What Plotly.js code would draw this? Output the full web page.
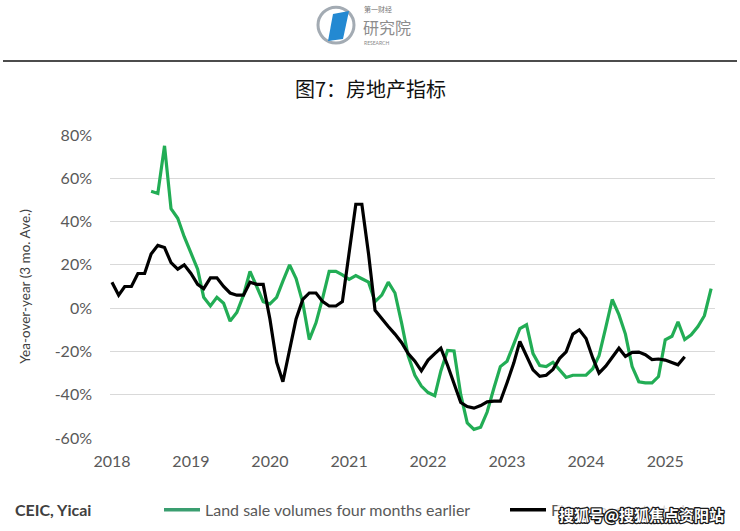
<!DOCTYPE html>
<html>
<head>
<meta charset="utf-8">
<script src="https://cdn.plot.ly/plotly-3.0.1.min.js"></script>
<style>
  html, body { margin: 0; padding: 0; background: #fff; }
  #chart { width: 740px; height: 531px; }
  text.annotation-text[data-unformatted^="搜狐号"] {
    stroke: #1a1a1a; stroke-width: 2.6px; paint-order: stroke fill; stroke-linejoin: round;
  }
</style>
</head>
<body>
<div id="chart"></div>
<script>
// ---------------- data ----------------
const landStart = '2018-07';   // first month of green series
const floorStart = '2018-01';  // first month of black series

const landSale = [
  54, 53, 75, 46, 41.5, 33,
  25.5, 18, 5, 1, 5, 2.3, -6, -2, 6, 17, 10, 3,
  2, 5, 12.5, 20, 13.7, 2.4, -14.5, -6.8, 4.7, 17, 17, 15.4,
  13.3, 15, 13.6, 12, 3, 6, 12, 7, -7, -22, -31, -36,
  -39, -40.5, -29, -19.5, -19.8, -40, -53, -56, -55, -48, -37, -27,
  -24.5, -16.5, -9.5, -7.7, -21, -26.5, -27, -25, -28.3, -32, -31, -31,
  -31, -28, -22, -9, 4, -3, -12, -27, -34, -34.5, -34.5, -31.6,
  -14.6, -13, -6.3, -14.5, -12.3, -8.5, -3.5, 9
];

const floorSpace = [
  12, 6, 10, 10, 16, 16, 25, 29, 28, 21, 18, 20,
  16, 11, 9, 14, 14, 10, 7, 6, 6, 12, 11, 11,
  -5, -25, -34, -19.5, -5, 4, 7, 7, 3, 1, 1, 3,
  25, 48, 48, 25, -1, -5, -8.5, -12, -16, -21, -24.5, -29,
  -24, -21, -18.5, -26.4, -35, -43.6, -45.5, -46.2, -45, -43.3, -43, -43,
  -34.5, -25.4, -15.4, -22, -28.5, -31.5, -31, -28.3, -23.2, -20.2, -12, -10,
  -14, -23, -30, -26.8, -22.5, -18.5, -22.3, -20.4, -20.3, -21.5, -23.8, -23.5,
  -24, -25, -26.2, -22.5
];

const seriesNames = ['Land sale volumes four months earlier', 'Floor space started'];
const seriesColors = ['#22ad55', '#000000'];
const yTickVals = [-60, -40, -20, 0, 20, 40, 60, 80];
const yTickText = ['-60%', '-40%', '-20%', '0%', '20%', '40%', '60%', '80%'];
const xTickYears = ['2018', '2019', '2020', '2021', '2022', '2023', '2024', '2025'];

// ---------------- helpers ----------------
function months(start, n) {
  const [y0, m0] = start.split('-').map(Number);
  const out = [];
  for (let i = 0; i < n; i++) {
    const t = (m0 - 1) + i;
    const y = y0 + Math.floor(t / 12);
    const m = (t % 12) + 1;
    out.push(y + '-' + String(m).padStart(2, '0') + '-01');
  }
  return out;
}

const W = 740, H = 531;
const PL = 110, PR = 715, PT = 135, PB = 438.3;
const fx = x => (x - PL) / (PR - PL);
const fy = y => (PB - y) / (PB - PT);

const FONT = 'Lato, "Open Sans", "DejaVu Sans", sans-serif';
const CJK = '"Noto Sans CJK SC", "Noto Sans", sans-serif';

const traces = [
  {
    x: months(landStart, landSale.length), y: landSale,
    type: 'scatter', mode: 'lines', name: seriesNames[0],
    line: { color: seriesColors[0], width: 3.2 }
  },
  {
    x: months(floorStart, floorSpace.length), y: floorSpace,
    type: 'scatter', mode: 'lines', name: seriesNames[1],
    line: { color: seriesColors[1], width: 3.2 }
  }
];

// manual legend (keeps the plot area fixed)
const legendY = 510;
const legendItems = [
  { x0: 164, x1: 200, tx: 203 },
  { x0: 510, x1: 546, tx: 549 }
];

const shapes = [
  // horizontal rule under header
  { type: 'line', xref: 'paper', yref: 'paper', x0: fx(3), x1: fx(737), y0: fy(61), y1: fy(61),
    line: { color: '#111111', width: 1.5 } },
  // logo ring
  { type: 'circle', xref: 'paper', yref: 'paper', x0: fx(318), x1: fx(354), y0: fy(43), y1: fy(7),
    line: { color: '#a3abb3', width: 3 } },
  // logo blue book
  { type: 'path', xref: 'paper', yref: 'paper',
    path: 'M ' + fx(333) + ',' + fy(14) + ' L ' + fx(349) + ',' + fy(11) + ' L ' + fx(343) + ',' + fy(39) +
          ' L ' + fx(328) + ',' + fy(41) + ' Z',
    fillcolor: '#2389d2', line: { color: '#2389d2', width: 0 } }
];
legendItems.forEach((it, i) => {
  shapes.push({ type: 'line', xref: 'paper', yref: 'paper', x0: fx(it.x0), x1: fx(it.x1),
    y0: fy(legendY), y1: fy(legendY),
    line: { color: i === 0 ? '#3a9e70' : seriesColors[1], width: 3.5 } });
});

const annotations = [
  { text: '第一财经', xref: 'paper', yref: 'paper', x: fx(362), y: fy(9), xanchor: 'left', yanchor: 'middle',
    showarrow: false, font: { family: CJK, size: 7, color: '#777777' } },
  { text: '研究院', xref: 'paper', yref: 'paper', x: fx(361), y: fy(26.5), xanchor: 'left', yanchor: 'middle',
    showarrow: false, font: { family: CJK, size: 16, color: '#8c8c8c' } },
  { text: 'RESEARCH', xref: 'paper', yref: 'paper', x: fx(362), y: fy(43), xanchor: 'left', yanchor: 'middle',
    showarrow: false, font: { family: FONT, size: 5, color: '#888888' } },
  { text: '图7：房地产指标', xref: 'paper', yref: 'paper', x: fx(370), y: fy(88), xanchor: 'center', yanchor: 'middle',
    showarrow: false, font: { family: CJK, size: 20, color: '#111111' } },
  { text: '<b>CEIC, Yicai</b>', xref: 'paper', yref: 'paper', x: fx(13), y: fy(legendY), xanchor: 'left', yanchor: 'middle',
    showarrow: false, font: { family: FONT, size: 16, color: '#404040' } }
];
legendItems.forEach((it, i) => {
  annotations.push({ text: seriesNames[i], xref: 'paper', yref: 'paper', x: fx(it.tx), y: fy(legendY),
    xanchor: 'left', yanchor: 'middle', showarrow: false,
    font: { family: FONT, size: 16, color: '#595959' } });
});
annotations.push({ text: '搜狐号@搜狐焦点资阳站', xref: 'paper', yref: 'paper', x: fx(641), y: fy(515),
  xanchor: 'center', yanchor: 'middle', showarrow: false, bgcolor: 'rgba(255,255,255,0.75)',
  font: { family: CJK, size: 15, color: '#ffffff', weight: 700 } });

const layout = {
  width: W, height: H,
  margin: { l: PL, r: W - PR, t: PT, b: H - PB, pad: 0, autoexpand: false },
  paper_bgcolor: '#ffffff', plot_bgcolor: '#ffffff',
  font: { family: FONT, color: '#595959', size: 16 },
  showlegend: false,
  xaxis: {
    type: 'date', automargin: false,
    range: ['2017-12-23', '2025-08-19'],
    tickvals: xTickYears.map(y => y + '-01-01'),
    ticktext: xTickYears,
    showgrid: false, zeroline: false, showline: false, ticks: '',
    ticklabelstandoff: 12,
    tickfont: { family: FONT, size: 16, color: '#595959' },
    fixedrange: true
  },
  yaxis: {
    automargin: false,
    range: [-60, 80],
    tickvals: yTickVals, ticktext: yTickText,
    showgrid: true, gridcolor: '#d9d9d9', gridwidth: 1,
    zeroline: false, showline: false, ticks: '',
    ticklabelstandoff: 17,
    tickfont: { family: FONT, size: 16, color: '#595959' },
    title: { text: 'Yea-over-year (3 mo. Ave.)', font: { family: FONT, size: 13.5, color: '#404040' }, standoff: 20 },
    fixedrange: true
  },
  shapes: shapes,
  annotations: annotations
};

Plotly.newPlot('chart', traces, layout, { staticPlot: true, displayModeBar: false });
</script>
</body>
</html>
